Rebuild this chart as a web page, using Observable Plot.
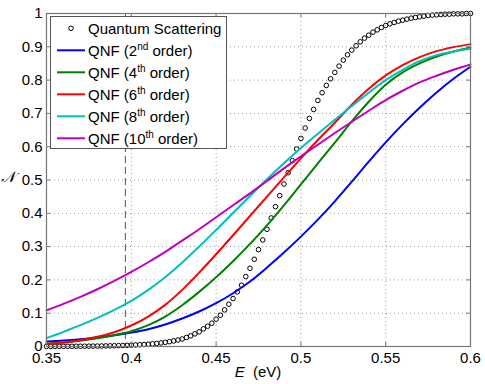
<!DOCTYPE html>
<html><head><meta charset="utf-8">
<script src="https://cdn.jsdelivr.net/npm/d3@7"></script>
<script src="https://cdn.jsdelivr.net/npm/@observablehq/plot@0.6"></script>
<style>body{margin:0;background:#fff} svg{display:block}</style>
</head><body><div id="chart"></div>
<script>
// Quantum scattering points
const qsE = [0.35,0.3525,0.355,0.3575,0.36,0.3625,0.365,0.3675,0.37,0.3725,0.375,0.3775,0.38,0.3825,0.385,0.3875,0.39,0.3925,0.395,0.3975,
0.4,0.4025,0.405,0.4075,0.41,0.4125,0.415,0.4175,0.42,0.4225,0.425,0.4275,0.43,0.4325,0.435,0.4375,0.44,0.4425,0.445,0.4475,
0.45,0.4525,0.455,0.4575,0.46,0.4625,0.465,0.4675,0.47,0.4725,0.475,0.4775,0.48,0.4825,0.485,0.4875,0.49,0.4925,0.495,0.4975,
0.5,0.5025,0.505,0.5075,0.51,0.5125,0.515,0.5175,0.52,0.5225,0.525,0.5275,0.53,0.5325,0.535,0.5375,0.54,0.5425,0.545,0.5475,
0.55,0.5525,0.555,0.5575,0.56,0.5625,0.565,0.5675,0.57,0.5725,0.575,0.5775,0.58,0.5825,0.585,0.5875,0.59,0.5925,0.595,0.5975,0.6];
const qsN = [0.0003,0.0003,0.0004,0.0004,0.0005,0.0005,0.0006,0.0007,0.0008,0.0009,0.001,0.0012,0.0013,0.0015,0.0017,0.002,0.0023,0.0026,0.003,0.0035,
0.004,0.0046,0.0053,0.006,0.007,0.008,0.0093,0.0108,0.0125,0.0145,0.0168,0.0195,0.0225,0.027,0.032,0.038,0.044,0.053,0.061,0.070,
0.082,0.094,0.110,0.127,0.144,0.164,0.184,0.210,0.235,0.262,0.291,0.320,0.352,0.386,0.420,0.453,0.488,0.522,0.558,0.593,
0.625,0.656,0.685,0.712,0.739,0.762,0.784,0.804,0.823,0.842,0.860,0.876,0.890,0.903,0.915,0.926,0.935,0.944,0.951,0.958,
0.964,0.969,0.973,0.977,0.980,0.983,0.986,0.988,0.990,0.992,0.994,0.995,0.996,0.997,0.998,0.998,0.999,0.999,0.999,1.0,1.0];

// QNF curves
const qnfE = [0.35,0.36,0.37,0.38,0.39,0.40,0.41,0.42,0.43,0.44,0.45,0.46,0.47,0.48,0.49,0.50,0.51,0.52,0.53,0.54,0.55,0.56,0.57,0.58,0.59,0.60];
const qnf2  = [0.015,0.018,0.022,0.027,0.034,0.042,0.052,0.066,0.084,0.105,0.130,0.160,0.195,0.237,0.282,0.330,0.381,0.436,0.495,0.555,0.613,0.667,0.717,0.763,0.804,0.840];
const qnf4  = [0.008,0.012,0.018,0.025,0.034,0.046,0.064,0.090,0.124,0.164,0.208,0.256,0.308,0.364,0.424,0.487,0.550,0.612,0.676,0.735,0.786,0.823,0.850,0.871,0.886,0.898];
const qnf6  = [0.008,0.012,0.019,0.029,0.043,0.063,0.090,0.125,0.170,0.222,0.277,0.334,0.392,0.450,0.508,0.565,0.620,0.672,0.726,0.774,0.814,0.845,0.869,0.887,0.899,0.908];
const qnf8  = [0.025,0.044,0.064,0.086,0.110,0.137,0.170,0.208,0.252,0.300,0.350,0.401,0.452,0.502,0.550,0.596,0.639,0.681,0.722,0.762,0.800,0.831,0.857,0.875,0.886,0.894];
const qnf10 = [0.109,0.128,0.149,0.172,0.197,0.224,0.253,0.284,0.318,0.352,0.388,0.424,0.460,0.497,0.535,0.571,0.606,0.641,0.675,0.708,0.740,0.768,0.793,0.813,0.831,0.847];

const seriesOrd = ["2","4","6","8","10"];
const seriesSup = ["nd","th","th","th","th"];
const seriesColors = ["#0000ff","#008000","#ff0000","#00bfbf","#bf00bf"];
const seriesVals = [qnf2,qnf4,qnf6,qnf8,qnf10];

const xTicks = [0.35,0.4,0.45,0.5,0.55,0.6];
const yTicks = [0,0.1,0.2,0.3,0.4,0.5,0.6,0.7,0.8,0.9,1];
const cutE = [0.3965];

const W = 485, H = 384, mL = 46, mR = 15, mT = 13, mB = 38;
const pw = W - mL - mR, ph = H - mT - mB;
const font = "Arial, 'Liberation Sans', Helvetica, sans-serif";
const axisColor = "#777";

const lineMarks = seriesVals.map((vals, s) =>
  Plot.line(qnfE, {x: d => d, y: (d, i) => vals[i], stroke: seriesColors[s], strokeWidth: 2, curve: "catmull-rom"}));

const chart = Plot.plot({
  width: W, height: H,
  marginLeft: mL, marginRight: mR, marginTop: mT, marginBottom: mB,
  x: {domain: [0.35, 0.6]},
  y: {domain: [0, 1]},
  style: {fontFamily: font, fontSize: "15px", color: "#000", background: "#fff"},
  marks: [
    Plot.gridX(xTicks, {stroke: "#999", strokeOpacity: 1, strokeDasharray: "1,3"}),
    Plot.gridY(yTicks, {stroke: "#999", strokeOpacity: 1, strokeDasharray: "1,3"}),
    Plot.ruleX(cutE, {stroke: "#555", strokeDasharray: "7,4", strokeWidth: 1}),
    Plot.dot(qsE, {x: d => d, y: (d, i) => qsN[i], r: 2.3, stroke: "#000", fill: "none", strokeWidth: 1}),
    ...lineMarks,
    Plot.frame({stroke: axisColor, strokeWidth: 1.2}),
    Plot.tickX(xTicks, {x: d => d, insetTop: ph - 4, stroke: axisColor}),
    Plot.tickX(xTicks, {x: d => d, insetBottom: ph - 4, stroke: axisColor}),
    Plot.tickY(yTicks, {y: d => d, insetRight: pw - 4, stroke: axisColor}),
    Plot.tickY(yTicks, {y: d => d, insetLeft: pw - 4, stroke: axisColor}),
    Plot.axisX(xTicks, {tickSize: 0, tickPadding: 6, label: null, fontSize: 15, tickFormat: d => String(d)}),
    Plot.axisY(yTicks, {tickSize: 0, tickPadding: 4, label: null, fontSize: 15, tickFormat: d => String(d)})
  ]
});
document.getElementById("chart").appendChild(chart);

const svg = d3.select(chart);
// axis titles
const xt = svg.append("text").attr("x", mL + pw / 2).attr("y", 377).attr("text-anchor", "middle")
  .attr("font-family", font).attr("font-size", 15).attr("fill", "#000");
xt.append("tspan").attr("font-style", "italic").text("E");
xt.append("tspan").text("\u00a0\u00a0(eV)");
svg.append("text").attr("x", 8).attr("y", 182).attr("text-anchor", "middle")
  .attr("font-family", "'DejaVu Serif', 'DejaVu Sans', serif").attr("font-size", 15).attr("font-style", "italic").attr("fill", "#000").text("\u{1D4A9}");

// legend
const lg = svg.append("g").attr("text-anchor", "start");
lg.append("rect").attr("x", 50.5).attr("y", 16.5).attr("width", 176).attr("height", 132)
  .attr("fill", "#fff").attr("stroke", "#555").attr("stroke-width", 1);
const rowY = i => 28.3 + i * 22;
lg.append("circle").attr("cx", 71).attr("cy", rowY(0)).attr("r", 2.3).attr("fill", "none").attr("stroke", "#000");
lg.append("text").attr("x", 88).attr("y", rowY(0) + 5.3).attr("text-anchor", "start").attr("font-family", font).attr("font-size", 15).attr("fill", "#000").text("Quantum Scattering");
seriesOrd.forEach((o, s) => {
  const y = rowY(s + 1);
  lg.append("line").attr("x1", 57).attr("x2", 85).attr("y1", y).attr("y2", y)
    .attr("stroke", seriesColors[s]).attr("stroke-width", 2);
  const t = lg.append("text").attr("x", 88).attr("y", y + 5.3).attr("text-anchor", "start").attr("font-family", font).attr("font-size", 15).attr("fill", "#000");
  t.append("tspan").text("QNF (" + o);
  t.append("tspan").attr("font-size", 10).attr("dy", -6).text(seriesSup[s]);
  t.append("tspan").attr("dy", 6).text("\u00a0order)");
});
</script>
</body></html>
